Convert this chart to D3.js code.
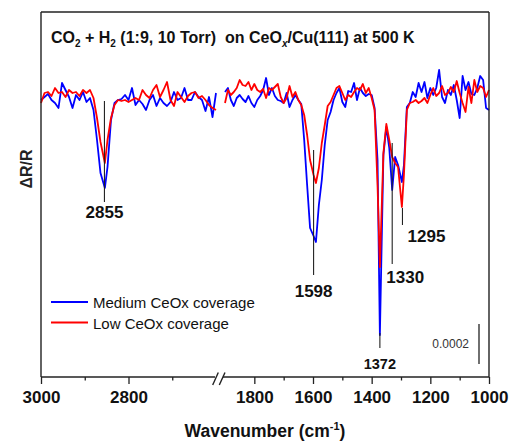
<!DOCTYPE html>
<html><head><meta charset="utf-8">
<script src="https://cdn.jsdelivr.net/npm/d3@7"></script>
<style>
body{margin:0;background:#fff}
svg{display:block}
text{font-family:"Liberation Sans",Arial,Helvetica,sans-serif}
</style>
</head><body>
<svg id="c" width="510" height="442"></svg>
<script>
// ---- data (ΔR/R in units of 1e-5) ----
const wnLeft = [3000,2992,2984,2976,2968,2960,2952,2944,2936,2928,2920,2912,2904,2896,2888,2880,2872,2864,2854,2848,2840,2832,2824,2816,2808,2800,2792,2784,2776,2768,2760,2752,2744,2736,2728,2720,2712,2704,2696,2688,2680,2672,2664,2656,2648,2640,2632,2624,2616,2608,2600];
const blueLeft = [0,1.5,3,0,-1.5,-4,8.5,5,1.5,-4, 2.5,0,4,-1,1,-5,-20,-36.5,-44,-33.5, -10,-1.5,0,0.5,2.5,0,6,-2.5,0,-2, -5,0,2.5,-3,1,-1.5,-3,-1,4,0, 1,6,0,0,4,1.5,0,-5.5,1.5,-8.5, 3.5];
const redLeft = [-1.5,3.5,4,2,6,3.5,4,1.5,5,3.5, 4,2,5,3.5,5,1,-9,-21,-31.5,-20, -9,-2.5,0,-0.5,0,-1,0,1,0,5, 2.5,1,5,7.5,1.5,5,9,0,-3,4, 1.5,-1,2,3.5,4,1,2,0,-2.5,-4, -5];

const wnRight = [1900,1890,1880,1870,1860,1850,1840,1830,1820,1810,1800,1790,1780,1770,1760,1750,1740,1730,1720,1710,1700,1690,1680,1670,1660,1650,1640,1630,1620,1610,1598,1590,1580,1570,1560,1550,1540,1530,1520,1510,1500,1490,1480,1470,1460,1450,1440,1430,1420,1410,1400,1390,1380,1372,1360,1350,1340,1330,1320,1310,1297,1290,1280,1270,1260,1250,1240,1230,1220,1210,1200,1190,1180,1170,1160,1150,1140,1130,1120,1110,1100,1090,1080,1070,1060,1050,1040,1030,1020,1010,1000];
const blueRight = [4,6,0,-3,1,2.5,0.5,-1,2,-1.5, -3.5,0,2,5,11,2.5,6,2,0,-0.5, -1.5,3.5,-3.5,0,2.5,0,-2,-20,-42.5,-64, -68,-71,-52.5,-40,-22.5,-10,-6,0,3.5,6, -1,-3.5,4.5,4,8.5,0,6,3.5,2,3, 2.5,-4,-30,-117.5,-27.5,-13.5,-24,-45,-28.5,-32.5, -41,-32.5,-3.5,-1.5,4,1.5,8.5,4,9,1, 6,2.5,6,15,1.5,-1.5,5,2.5,7.5,0, -9,12,5,9,3,2.5,6,12,10,-4, -5];
const redRight = [-1.5,5,2.5,4,6,10,7.5,7,9,5, 8,5,4,5.5,1,6,5,6.5,8,1.5, -1.5,1,7,1.5,4,0,-2.5,-7.5,-17.5,-30, -37.5,-41.5,-34,-21.5,-12.5,-3,-1,2.5,6,7, 3.5,0,2.5,1.5,4,6,5,8,3.5,6, 1,-5,-42.5,-83.5,-26.5,-12,-20,-28.5,-31.5,-33.5, -53.5,-37.5,-5,-1.5,-1,0,-1.5,-0.5,1,-1.5, 2.5,6,2,3.5,7,2.5,3.5,6.5,4,9.5, 3.5,-1.5,-6,6.5,-1.5,10,4,7,6,1.5, 5];

const seriesNames = ["Medium CeOx coverage", "Low CeOx coverage"];
const seriesColors = ["#0000ff", "#ff0000"];

const majorLeft = [3000, 2800], minorLeft = [2900, 2700];
const majorRight = [1800, 1600, 1400, 1200, 1000], minorRight = [1700, 1500, 1300, 1100];

const peakWn = [2855, 1598, 1372, 1330, 1295];
const peakLabels = ["2855", "1598", "1372", "1330", "1295"];
const peakTop = [-0.5, -25, -116.5, -21.5, -54];
const peakBottom = [-51, -87.5, -124, -82, -62.5];

const scaleBarLabel = "0.0002";
const scaleBarUnits = 20;      // 0.0002 / 1e-5
const scaleBarTop = -112;

// ---- layout ----
const svg = d3.select("#c");
const L = 41, R = 489, T = 12, B = 377, brkL = 216, brkR = 225;
const xL = d3.scaleLinear().domain([3000, 2600]).range([L, brkL]);
const xR = d3.scaleLinear().domain([1900, 1000]).range([brkR, R]);
const y = d3.scaleLinear().domain([-138.5, 44]).range([B, T]);
const xAny = w => (w >= 2600 ? xL(w) : xR(w));

// traces
const segs = [
  {x: xL, wn: wnLeft, s: [blueLeft, redLeft]},
  {x: xR, wn: wnRight, s: [blueRight, redRight]}
];
[0, 1].forEach(si => {
  segs.forEach(sg => {
    const line = d3.line().x((d, i) => sg.x(sg.wn[i])).y(d => y(d));
    svg.append("path").attr("d", line(sg.s[si]))
      .attr("fill", "none").attr("stroke", seriesColors[si])
      .attr("stroke-width", 1.8).attr("stroke-linejoin", "round");
  });
});

// frame
const frame = svg.append("g").attr("stroke", "#222").attr("stroke-width", 1.4).attr("fill", "none");
frame.append("line").attr("x1", L).attr("x2", L).attr("y1", T).attr("y2", B);
frame.append("line").attr("x1", R).attr("x2", R).attr("y1", T).attr("y2", B);
frame.append("line").attr("x1", L).attr("x2", R).attr("y1", T).attr("y2", T);
frame.append("line").attr("x1", L).attr("x2", 215).attr("y1", B).attr("y2", B);
frame.append("line").attr("x1", 223).attr("x2", R).attr("y1", B).attr("y2", B);
frame.append("line").attr("x1", 212.7).attr("y1", 385).attr("x2", 218.3).attr("y2", 372.5);
frame.append("line").attr("x1", 219.3).attr("y1", 385).attr("x2", 225).attr("y2", 372.5);

// axes
function styleAxis(g, fs) {
  g.select(".domain").remove();
  g.selectAll(".tick line").attr("stroke", "#222").attr("stroke-width", 1.3);
  g.selectAll(".tick text").attr("fill", "#111").style("font-size", fs + "px").style("font-weight", "bold");
}
[[xL, majorLeft, minorLeft], [xR, majorRight, minorRight]].forEach(([sc, maj, min]) => {
  svg.append("g").attr("transform", `translate(0,${B})`)
    .call(d3.axisBottom(sc).tickValues(maj).tickSize(7).tickPadding(7).tickFormat(d3.format("d")))
    .call(g => styleAxis(g, 17));
  svg.append("g").attr("transform", `translate(0,${B})`)
    .call(d3.axisBottom(sc).tickValues(min).tickSize(3.5).tickFormat(""))
    .call(g => styleAxis(g, 17));
});

// axis titles
const xt = svg.append("text").attr("x", 265).attr("y", 437).attr("text-anchor", "middle")
  .style("font-size", "17.5px").style("font-weight", "bold").attr("fill", "#111");
xt.append("tspan").text("Wavenumber (cm");
xt.append("tspan").text("-1").style("font-size", "11px").attr("dy", -7);
xt.append("tspan").text(")").attr("dy", 7);

svg.append("text").attr("transform", "translate(32,169) rotate(-90)").attr("text-anchor", "middle")
  .style("font-size", "16px").style("font-weight", "bold").attr("fill", "#222").text("ΔR/R");

// title
const tt = svg.append("text").attr("x", 51).attr("y", 43).style("font-size", "16px")
  .style("font-weight", "bold").attr("fill", "#111").attr("xml:space", "preserve").style("white-space", "pre");
tt.append("tspan").text("CO");
tt.append("tspan").text("2").style("font-size", "10px").attr("dy", 4);
tt.append("tspan").text(" + H").attr("dy", -4);
tt.append("tspan").text("2").style("font-size", "10px").attr("dy", 4);
tt.append("tspan").text(" (1:9, 10 Torr)  on CeO").attr("dy", -4);
tt.append("tspan").text("x").style("font-size", "10px").style("font-style", "italic").attr("dy", 4);
tt.append("tspan").text("/Cu(111) at 500 K").attr("dy", -4);

// peak markers
const labelDx = [0, 0, 0, 13, 24];
const labelDy = [16, 22, 21, 19, 17];
const labelSize = [17, 17, 14.5, 17, 17];
peakWn.forEach((w, i) => {
  const px = xAny(w);
  svg.append("line").attr("x1", px).attr("x2", px).attr("y1", y(peakTop[i])).attr("y2", y(peakBottom[i]))
    .attr("stroke", "#222").attr("stroke-width", 1.1);
  svg.append("text").attr("x", px + labelDx[i]).attr("y", y(peakBottom[i]) + labelDy[i])
    .attr("text-anchor", "middle").style("font-size", labelSize[i] + "px").style("font-weight", "bold")
    .attr("fill", "#111").text(peakLabels[i]);
});

// legend
seriesNames.forEach((n, i) => {
  const ly = 302 + i * 20.5;
  svg.append("line").attr("x1", 51).attr("x2", 88).attr("y1", ly).attr("y2", ly)
    .attr("stroke", seriesColors[i]).attr("stroke-width", 1.8);
  svg.append("text").attr("x", 93).attr("y", ly + 6).style("font-size", "15px").attr("fill", "#111").text(n);
});

// scale bar
svg.append("line").attr("x1", 479).attr("x2", 479).attr("y1", y(scaleBarTop)).attr("y2", y(scaleBarTop - scaleBarUnits))
  .attr("stroke", "#222").attr("stroke-width", 1.3);
svg.append("text").attr("x", 469).attr("y", (y(scaleBarTop) + y(scaleBarTop - scaleBarUnits)) / 2 + 4)
  .attr("text-anchor", "end").style("font-size", "12px").attr("fill", "#333").text(scaleBarLabel);
</script>
</body></html>
